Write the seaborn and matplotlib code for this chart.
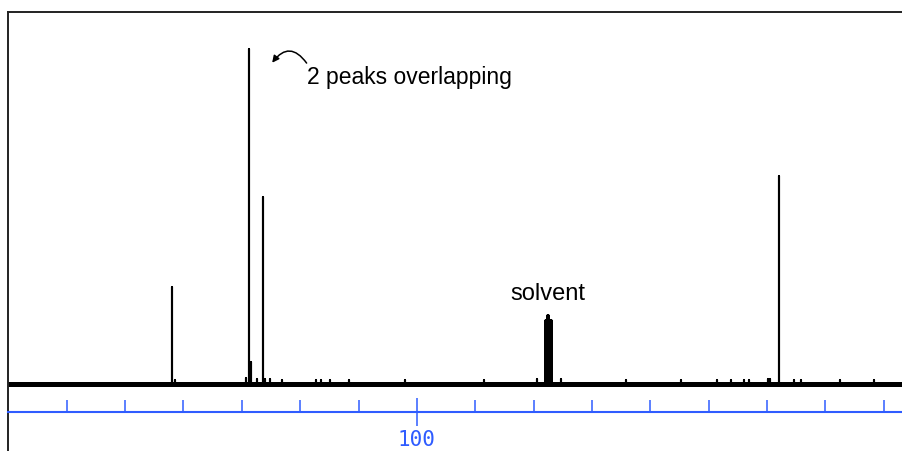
import numpy as np
import pandas as pd
import seaborn as sns
import matplotlib
matplotlib.use('Agg')
import matplotlib.pyplot as plt
from matplotlib.ticker import FixedLocator

# 13C 谱图: ppm 位置 + 相对强度 (最高峰 = 100)
main_ppm = [141.9, 128.8, 128.5, 126.3, 38.0]
main_int = [29.0, 100.0, 6.6, 55.8, 62.1]

# 溶剂 (CDCl3 三重峰)
solvent_ppm = [77.8, 77.45, 77.1]
solvent_int = [18.8, 20.3, 18.8]

# 基线上的小峰
small_ppm = [141.5, 129.2, 127.4, 126.0, 125.1, 123.2, 117.3, 116.5, 114.9, 111.7, 102.1,
             88.5, 79.4, 75.3, 64.2, 54.8, 48.5, 46.1, 44.0, 43.1, 39.8, 39.5,
             35.3, 34.1, 27.5, 21.7]
small_int = [1.3, 1.8, 1.5, 1.6, 1.4, 1.3, 1.3, 1.3, 1.3, 1.3, 1.3,
             1.3, 1.4, 1.4, 1.3, 1.3, 1.3, 1.3, 1.3, 1.3, 1.5, 1.5,
             1.3, 1.3, 1.3, 1.3]

tick_major = [100]
tick_minor = [160, 150, 140, 130, 120, 110, 90, 80, 70, 60, 50, 40, 30, 20]
ppm_left, ppm_right = 170.07, 16.7


def sticks(ppm, inten):
    rows = []
    for i in np.argsort(ppm)[::-1]:
        rows += [(ppm[i], 0.0), (ppm[i], inten[i]), (ppm[i], 0.0)]
    return pd.DataFrame(rows, columns=['ppm', 'intensity'])


spec = sticks(main_ppm + small_ppm, main_int + small_int)
solv = sticks(solvent_ppm, solvent_int)

sns.set_style("white")
plt.rcParams['font.family'] = ['Liberation Sans', 'DejaVu Sans']
plt.rcParams['text.color'] = 'black'

fig = plt.figure(figsize=(9.03, 4.51), dpi=100)
W, H = 903, 451

# 主图
ax = fig.add_axes([8 / W, 0, 1 - 8 / W, 1 - 11.7 / H])
ax.axhline(0, color='black', lw=3.6, zorder=2)
sns.lineplot(data=spec, x='ppm', y='intensity', sort=False, estimator=None,
             color='black', lw=1.5, ax=ax, zorder=3)
sns.lineplot(data=solv, x='ppm', y='intensity', sort=False, estimator=None,
             color='black', lw=2.6, ax=ax, zorder=3)
ax.set_xlim(ppm_left, ppm_right)
ax.set_ylim(-(H - 384) / 3.35, (384 - 11.7) / 3.35)
ax.set_xticks([])
ax.set_yticks([])
ax.set_xlabel('')
ax.set_ylabel('')
for s in ['right', 'bottom']:
    ax.spines[s].set_visible(False)
for s in ['top', 'left']:
    ax.spines[s].set_color('#222222')
    ax.spines[s].set_linewidth(1.4)

ax.text(77.55, 25.2, 'solvent', fontsize=17, ha='center', va='baseline', color='black')
ax.text(118.9, 89.6, '2 peaks overlapping', fontsize=16.5, ha='left', va='baseline',
        color='black')
ax.annotate('', xy=(124.8, 95.9), xytext=(118.9, 95.8),
            arrowprops=dict(arrowstyle='-|>', connectionstyle='arc3,rad=0.67',
                            color='black', lw=1.1, mutation_scale=10,
                            shrinkA=0, shrinkB=0))

# 蓝色 ppm 刻度轴
blue = '#2f5cff'
ax2 = fig.add_axes([8 / W, 1 - 411.7 / H, 1 - 8 / W, 0.04])
ax2.patch.set_visible(False)
for s in ['top', 'left', 'right']:
    ax2.spines[s].set_visible(False)
ax2.spines['bottom'].set_color(blue)
ax2.spines['bottom'].set_linewidth(1.5)
ax2.set_xlim(ppm_left, ppm_right)
ax2.set_yticks([])
ax2.xaxis.set_major_locator(FixedLocator(tick_major))
ax2.xaxis.set_minor_locator(FixedLocator(tick_minor))
ax2.tick_params(axis='x', which='minor', direction='in', length=8.9, width=1.1,
                color=blue, bottom=True)
ax2.tick_params(axis='x', which='major', direction='inout', length=19.7, width=1.1,
                color=blue, labelcolor=blue, labelsize=15, pad=3, bottom=True)
for lab in ax2.get_xticklabels():
    lab.set_family('DejaVu Sans Mono')

fig.savefig('out.png', dpi=100)
